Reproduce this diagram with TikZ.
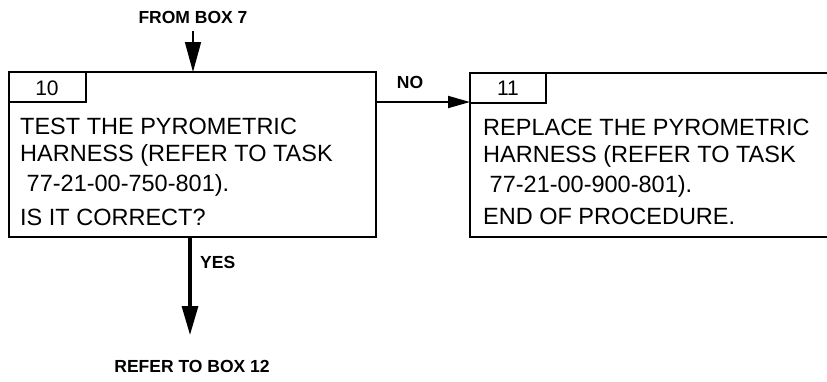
\documentclass[tikz,border=0pt]{standalone}
\usepackage{fontspec}
\setmainfont{Liberation Sans}
\usetikzlibrary{arrows.meta}
\begin{document}
\begin{tikzpicture}[x=1pt,y=-1pt,
  boxline/.style={draw=black,line width=2.4pt},
  body/.style={anchor=base west,inner sep=0pt,font=\fontsize{23.5}{26}\selectfont},
  num/.style={inner sep=0pt,font=\fontsize{21}{24}\selectfont},
  lbl/.style={inner sep=0pt,font=\fontsize{17.5}{20}\selectfont\bfseries},
  thinarrow/.style={draw=black,line width=1.6pt,-{Triangle[length=30pt,width=16pt]}},
  thickarrow/.style={draw=black,line width=3.2pt,-{Triangle[length=29pt,width=16pt]}},
  sidearrow/.style={draw=black,line width=1.8pt,-{Triangle[length=22pt,width=12pt]}}]
\useasboundingbox (0,0) rectangle (827,381);
% box 10
\draw[boxline] (9,72) rectangle (376,237);
\draw[boxline] (9,102) -- (86,102) -- (86,72);
\node[num] (n10) at (47,88) {10};
\coordinate (b10top) at (193,72);
\coordinate (b10bot) at (190,237);
\coordinate (b10right) at (376,102);
\node[body] (t1) at (20,134) {TEST THE PYROMETRIC};
\node[body] (t2) at (20,161) {HARNESS (REFER TO TASK};
\node[body] (t3) at (20,191) {\ 77-21-00-750-801).};
\node[body] (t4) at (20,225) {IS IT CORRECT?};
% box 11
\draw[boxline] (830,73) -- (470,73) -- (470,237) -- (830,237);
\draw[boxline] (470,103) -- (546,103) -- (546,73);
\node[num] (n11) at (508,88) {11};
\coordinate (b11left) at (470,102);
\node[body] (u1) at (483,135) {REPLACE THE PYROMETRIC};
\node[body] (u2) at (483,162) {HARNESS (REFER TO TASK};
\node[body] (u3) at (483,192) {\ 77-21-00-900-801).};
\node[body] (u4) at (483,224) {END OF PROCEDURE.};
% labels
\node[lbl] (from) at (193,17) {FROM BOX 7};
\coordinate (fromend) at (193,31);
\node[lbl] (no) at (410,82) {NO};
\node[lbl,anchor=west] (yes) at (200,262) {YES};
\node[lbl] (refer) at (192,366) {REFER TO BOX 12};
\coordinate (yesend) at (190,335);
% arrows
\draw[thinarrow] (fromend) -- (b10top);
\draw[sidearrow] (b10right) -- (b11left);
\draw[thickarrow] (b10bot) -- (yesend);
\end{tikzpicture}
\end{document}
